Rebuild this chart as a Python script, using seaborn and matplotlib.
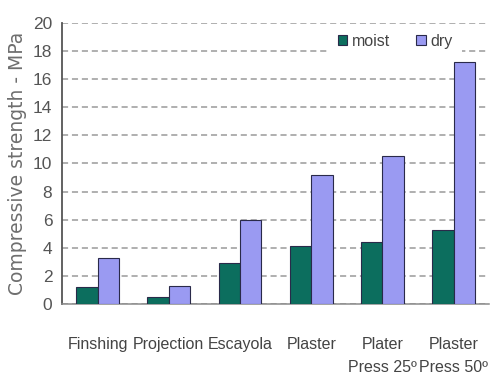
import matplotlib
matplotlib.use("Agg")
import matplotlib.pyplot as plt
import seaborn as sns
import pandas as pd

# Compressive strength of gypsum products (MPa)
categories = ["Finshing", "Projection", "Escayola", "Plaster",
              "Plater\nPress 25º", "Plaster\nPress 50º"]
moist = [1.25, 0.48, 2.9, 4.15, 4.4, 5.3]
dry = [3.3, 1.3, 6.0, 9.2, 10.55, 17.25]
series_names = ["moist", "dry"]
y_ticks = list(range(0, 21, 2))

df = pd.DataFrame({
    "material": categories * 2,
    "state": [series_names[0]] * len(moist) + [series_names[1]] * len(dry),
    "value": moist + dry,
})

sns.set_style("white")
narrow = ["Liberation Sans", "DejaVu Sans"]
plt.rcParams["font.family"] = ["DejaVu Sans"]

fig = plt.figure(figsize=(4.9, 3.82), dpi=100)
ax = fig.add_axes([0.1265, 0.204, 0.872, 0.736])

palette = {"moist": "#0c6e5e", "dry": "#9a9af2"}
sns.barplot(data=df, x="material", y="value", hue="state", order=categories,
            hue_order=series_names, palette=palette, width=0.6, gap=0,
            edgecolor="#2a2a4a", linewidth=0.8, saturation=1, ax=ax, zorder=3)

ax.set_xlim(-0.5, len(categories) - 0.5)
ax.set_ylim(0, 20)
ax.set_yticks(y_ticks)
ax.yaxis.grid(True, linestyle=(0, (4, 2.5)), color="#9a9a9a", linewidth=1.1, zorder=0)
ax.xaxis.grid(False)

for s in ["top", "right"]:
    ax.spines[s].set_visible(False)
ax.spines["left"].set_color("#555555")
ax.spines["left"].set_linewidth(1.3)
ax.spines["bottom"].set_color("#8a8a8a")
ax.spines["bottom"].set_linewidth(1.1)

ax.tick_params(axis="y", direction="inout", length=6, width=1.1, color="#555555",
               labelsize=12.5, labelcolor="#555555", pad=4)
ax.tick_params(axis="x", length=0, labelsize=11.5, labelcolor="#444444", pad=24)
for lab in ax.get_yticklabels():
    lab.set_family(narrow)
for lab in ax.get_xticklabels():
    lab.set_family(narrow)
    lab.set_linespacing(1.6)
    lab.set_verticalalignment("top")

ax.set_xlabel("")
ax.set_ylabel("Compressive strength - MPa", fontsize=13.5, color="#6e6e6e", labelpad=4)

leg = ax.legend(loc="center", bbox_to_anchor=(0.78, 0.935), ncol=2, frameon=True,
                facecolor="white", edgecolor="none", framealpha=1,
                handlelength=0.6, handleheight=0.6, handletextpad=0.3,
                columnspacing=1.6, borderpad=0.6,
                prop={"family": narrow, "size": 11.5})
for t in leg.get_texts():
    t.set_color("#444444")
leg.set_zorder(5)

fig.savefig("out.png", dpi=100)
